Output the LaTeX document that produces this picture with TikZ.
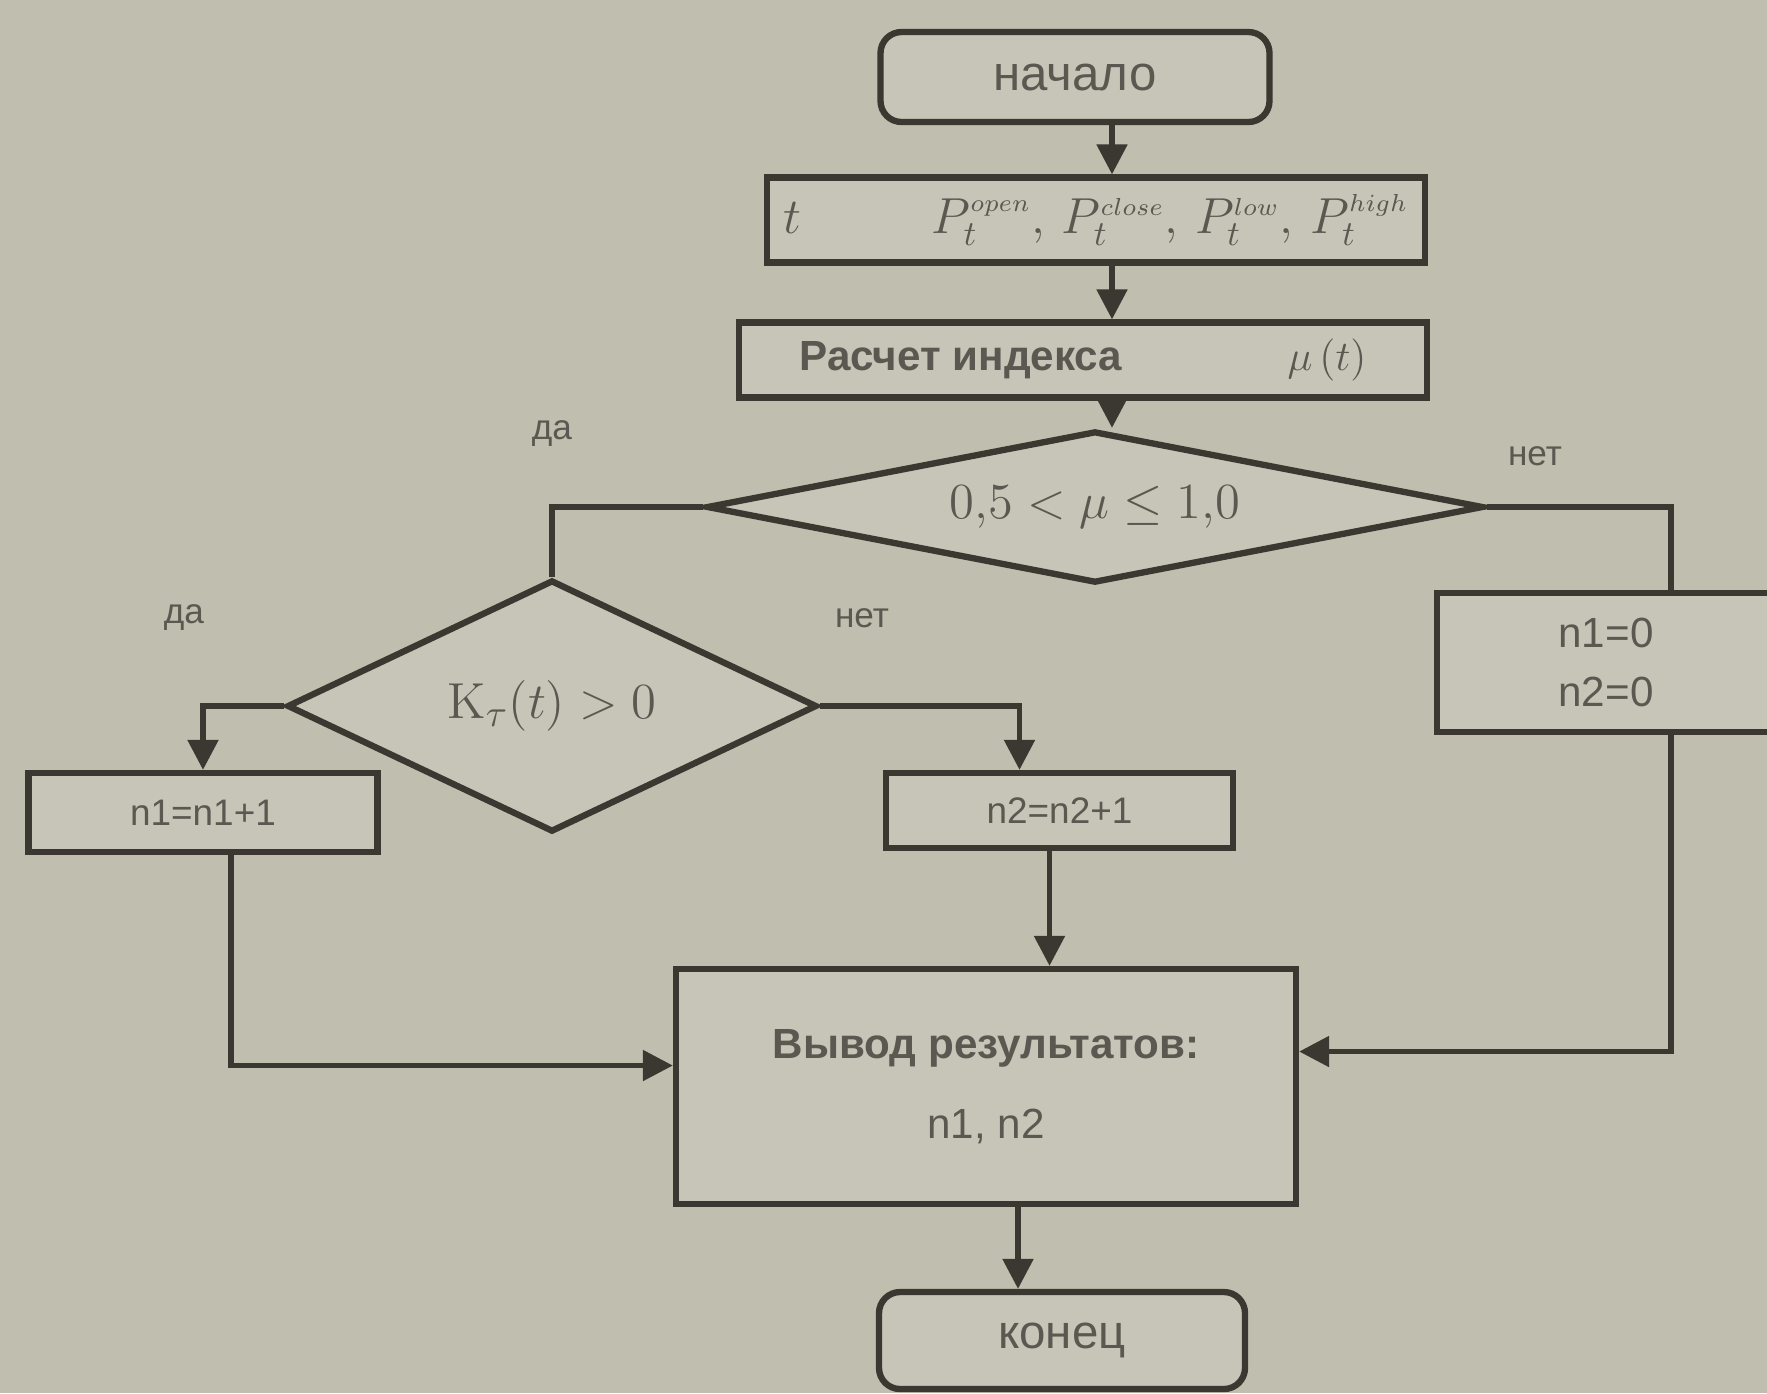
\documentclass[tikz,border=0pt]{standalone}
\usepackage[no-math]{fontspec}
\setmainfont{Liberation Sans}
\usepackage{amsmath}
\usepackage{amssymb}
\usepackage{tikz}
\usetikzlibrary{positioning}
\usetikzlibrary{shapes.geometric}
\usetikzlibrary{arrows.meta}
\usepackage{xcolor}
\definecolor{paper}{RGB}{192,190,174}
\definecolor{boxfill}{RGB}{199,197,183}
\definecolor{ink}{RGB}{58,56,48}
\definecolor{faint}{RGB}{90,88,80}
\newcommand{\pricekind}[1]{^{\scriptscriptstyle #1}}

\begin{document}
\begin{tikzpicture}[
    line/.style={ink, line width=1.5pt},
    arrow/.style={line, -{Triangle[length=8.5pt, width=8.5pt]}},
    block/.style={draw=ink, line width=1.8pt, fill=boxfill, inner sep=0pt, text=faint},
    term/.style={block, rounded corners=6pt},
    cond/.style={block, diamond},
    answer/.style={text=faint, font=\fontsize{10}{12}\selectfont}]
	    		\useasboundingbox (0,0) rectangle (17.67,-13.93);
	    		\fill[paper] (0,0) rectangle (17.67,-13.93);
	    		\clip (0,0) rectangle (17.67,-13.93);
	    		% boxes
	    		\node[term, minimum width=3.89cm, minimum height=0.9cm, font=\fontsize{14}{16}\selectfont] (start) at (10.75,-0.77) {начало};
	    		\node[block, minimum width=6.58cm, minimum height=0.85cm, font=\fontsize{14}{16}\selectfont] (input) at (10.96,-2.20)
	    			{$t$\hspace{1.3cm}$P_t\pricekind{open},\,P_t\pricekind{close},\,P_t\pricekind{low},\,P_t\pricekind{high}$\hspace{0.2cm}};
	    		\node[block, minimum width=6.88cm, minimum height=0.75cm, font=\fontsize{12}{14}\selectfont] (calc) at (10.83,-3.60)
	    			{\textbf{Расчет индекса}\hspace{1.65cm}$\mu\,(t)$\hspace{0.3cm}};
	    		\node[cond, aspect=5.1, minimum width=7.77cm, minimum height=1.52cm, font=\fontsize{15}{17}\selectfont] (cond1) at (10.95,-5.07)
	    			{$0{,}5 < \mu \leq 1{,}0$};
	    		\node[cond, aspect=2.1, minimum width=5.30cm, minimum height=2.52cm, font=\fontsize{15}{17}\selectfont] (cond2) at (5.52,-7.06)
	    			{$\mathrm{K}_{\tau}(t) > 0$};
	    		\node[block, minimum width=3.49cm, minimum height=0.79cm, font=\fontsize{10.5}{12}\selectfont] (inc1) at (2.03,-8.125) {n1=n1+1};
	    		\node[block, minimum width=3.47cm, minimum height=0.75cm, font=\fontsize{10.5}{12}\selectfont] (inc2) at (10.595,-8.105) {n2=n2+1};
	    		\node[block, minimum width=3.38cm, minimum height=1.39cm, align=center, font=\fontsize{12}{17}\selectfont] (zero) at (16.06,-6.625) {n1=0\\n2=0};
	    		\node[block, minimum width=6.20cm, minimum height=2.35cm, align=center, font=\fontsize{12}{22.7}\selectfont] (out) at (9.86,-10.865)
	    			{\textbf{Вывод результатов:}\\n1, n2};
	    		\node[term, minimum width=3.66cm, minimum height=0.97cm, font=\fontsize{13.5}{16}\selectfont] (stop) at (10.62,-13.405) {конец};
	    		% connectors
	    		\coordinate (axis) at (11.12,0);
	    		\draw[arrow] (start.south -| axis) -- (input.north -| axis);
	    		\draw[arrow] (input.south -| axis) -- (calc.north -| axis);
	    		\draw[arrow] (calc.south -| axis) -- (cond1.north -| axis);
	    		\draw[line] (cond1.west) -| (cond2.north);
	    		\draw[line] (cond1.east) -| ([xshift=6.5mm]zero.north);
	    		\draw[arrow] (cond2.west) -| (inc1.north);
	    		\draw[arrow] (cond2.east) -| ([xshift=-4mm]inc2.north);
	    		\draw[arrow] ([xshift=-1mm]inc2.south) -- ([xshift=-1mm]inc2.south |- out.north);
	    		\draw[arrow] ([xshift=2.8mm]inc1.south) |- ([yshift=2.1mm]out.west);
	    		\draw[arrow] ([xshift=6.5mm]zero.south) |- ([yshift=3.5mm]out.east);
	    		\draw[arrow] ([xshift=3.2mm]out.south) -- ([xshift=3.2mm]out.south |- stop.north);
	    		% yes / no
	    		\node[answer] (yes1) at (5.52,-4.34) {да};
	    		\node[answer] (no1) at (15.35,-4.56) {нет};
	    		\node[answer] (yes2) at (1.84,-6.18) {да};
	    		\node[answer] (no2) at (8.62,-6.18) {нет};
			\end{tikzpicture}
\end{document}
